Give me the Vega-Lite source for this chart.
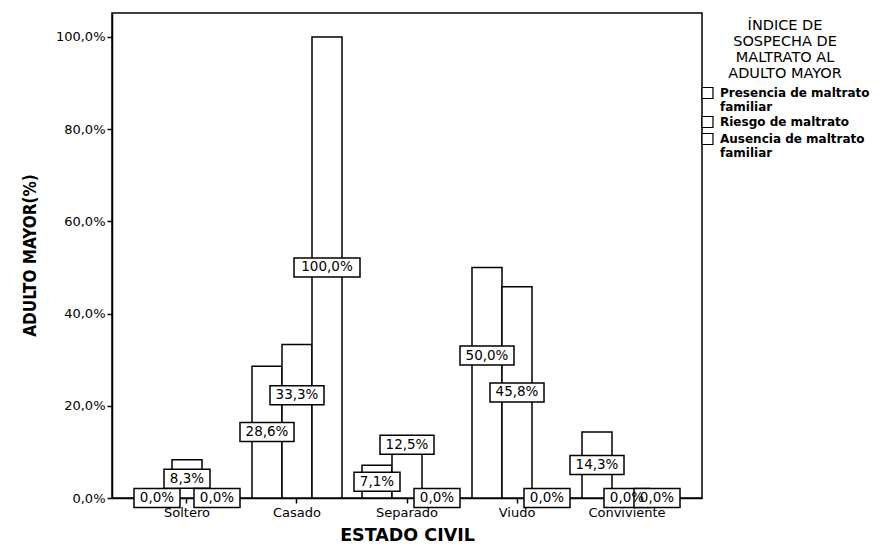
{
  "$schema": "https://vega.github.io/schema/vega-lite/v6.json",
  "width": 590,
  "height": 485,
  "autosize": {"type": "none"},
  "padding": {"left": 112, "top": 13, "right": 183, "bottom": 52},
  "background": "white",
  "config": {
    "view": {"stroke": "black", "strokeWidth": 1.5},
    "axis": {
      "domainColor": "black", "domainWidth": 1.5, "tickColor": "black", "tickWidth": 1.5,
      "labelColor": "black", "titleColor": "black", "grid": false,
      "labelFont": "DejaVu Sans", "titleFont": "DejaVu Sans"
    },
    "legend": {"labelFont": "DejaVu Sans", "titleFont": "DejaVu Sans"}
  },
  "data": {
    "values": [
      {"estado": "Soltero", "serie": "Presencia de maltrato familiar", "value": 0.0},
      {"estado": "Soltero", "serie": "Riesgo de maltrato", "value": 8.3},
      {"estado": "Soltero", "serie": "Ausencia de maltrato familiar", "value": 0.0},
      {"estado": "Casado", "serie": "Presencia de maltrato familiar", "value": 28.6},
      {"estado": "Casado", "serie": "Riesgo de maltrato", "value": 33.3},
      {"estado": "Casado", "serie": "Ausencia de maltrato familiar", "value": 100.0},
      {"estado": "Separado", "serie": "Presencia de maltrato familiar", "value": 7.1},
      {"estado": "Separado", "serie": "Riesgo de maltrato", "value": 12.5},
      {"estado": "Separado", "serie": "Ausencia de maltrato familiar", "value": 0.0},
      {"estado": "Viudo", "serie": "Presencia de maltrato familiar", "value": 50.0},
      {"estado": "Viudo", "serie": "Riesgo de maltrato", "value": 45.8},
      {"estado": "Viudo", "serie": "Ausencia de maltrato familiar", "value": 0.0},
      {"estado": "Conviviente", "serie": "Presencia de maltrato familiar", "value": 14.3},
      {"estado": "Conviviente", "serie": "Riesgo de maltrato", "value": 0.0},
      {"estado": "Conviviente", "serie": "Ausencia de maltrato familiar", "value": 0.0}
    ]
  },
  "transform": [
    {"calculate": "indexof(['Presencia de maltrato familiar','Riesgo de maltrato','Ausencia de maltrato familiar'], datum.serie)", "as": "orden"},
    {"calculate": "datum.value / 2", "as": "mid"},
    {"window": [
      {"op": "lag", "field": "mid", "as": "prevMid"},
      {"op": "lead", "field": "mid", "as": "nextMid"},
      {"op": "lag", "field": "value", "as": "prevVal"},
      {"op": "lead", "field": "value", "as": "nextVal"}
    ], "groupby": ["estado"], "sort": [{"field": "orden", "order": "ascending"}]},
    {"calculate": "(datum.value > 0 && datum.prevVal > 0 && abs(datum.mid - datum.prevMid) < 4.5 && datum.value > datum.prevVal) ? datum.prevMid + 8 : ((datum.value > 0 && datum.nextVal > 0 && abs(datum.mid - datum.nextMid) < 4.5 && datum.value > datum.nextVal) ? datum.nextMid + 8 : datum.mid)", "as": "labY"},
    {"calculate": "replace(format(datum.value, '.1f'), '.', ',') + '%'", "as": "label"}
  ],
  "encoding": {
    "x": {
      "field": "estado", "type": "nominal",
      "sort": ["Soltero", "Casado", "Separado", "Viudo", "Conviviente"],
      "scale": {"paddingInner": 0.1818, "paddingOuter": 0.2727},
      "axis": {
        "title": "ESTADO CIVIL", "titleFontSize": 17.5, "titleFontWeight": "bold", "titlePadding": 7,
        "labelAngle": 0, "labelFontSize": 13, "labelPadding": 3, "tickSize": 5
      }
    },
    "xOffset": {
      "field": "serie", "type": "nominal",
      "sort": ["Presencia de maltrato familiar", "Riesgo de maltrato", "Ausencia de maltrato familiar"],
      "scale": {"paddingInner": 0, "paddingOuter": 0}
    }
  },
  "layer": [
    {
      "mark": {"type": "bar", "stroke": "black", "strokeWidth": 1.5},
      "encoding": {
        "y": {
          "field": "value", "type": "quantitative",
          "scale": {"domain": [0, 105.2], "nice": false, "zero": true},
          "axis": {
            "values": [0, 20, 40, 60, 80, 100],
            "labelExpr": "replace(format(datum.value, '.1f'), '.', ',') + '%'",
            "labelFontSize": 13, "labelPadding": 2, "tickSize": 5,
            "title": "ADULTO MAYOR(%)", "titleFont": "'DejaVu Sans Condensed', 'Liberation Sans', sans-serif", "titleFontWeight": "bold",
            "titleFontSize": 17, "titleX": -82, "titleY": 242, "titleBaseline": "middle", "titleAlign": "center"
          }
        },
        "fill": {
          "field": "serie", "type": "nominal",
          "scale": {
            "domain": ["Presencia de maltrato familiar", "Riesgo de maltrato", "Ausencia de maltrato familiar"],
            "range": ["white", "white", "white"]
          },
          "legend": {
            "orient": "none", "legendX": 589, "legendY": 6,
            "title": ["ÍNDICE DE", "SOSPECHA DE", "MALTRATO AL", "ADULTO MAYOR"],
            "titleFontSize": 14.5, "titleFontWeight": "normal", "titleLineHeight": 16,
            "titleAlign": "center", "titleAnchor": "middle", "titlePadding": 5, "titleLimit": 300,
            "labelExpr": "datum.label == 'Presencia de maltrato familiar' ? ['Presencia de maltrato', 'familiar'] : (datum.label == 'Ausencia de maltrato familiar' ? ['Ausencia de maltrato', 'familiar'] : datum.label)",
            "labelFontSize": 12, "labelFontWeight": "bold", "labelLimit": 300, "labelOffset": 6,
            "symbolType": "square", "symbolSize": 120, "symbolStrokeColor": "black", "symbolStrokeWidth": 1.2,
            "rowPadding": 0
          }
        }
      }
    },
    {
      "mark": {"type": "point", "filled": true, "fill": "white", "stroke": "black", "strokeWidth": 1.5, "size": 400, "opacity": 1},
      "encoding": {
        "y": {"field": "labY", "type": "quantitative"},
        "shape": {
          "condition": [
            {"test": "datum.value >= 100", "value": "M-3.3,-0.95H3.3V0.95H-3.3Z"},
            {"test": "datum.value < 10", "value": "M-2.3,-0.95H2.3V0.95H-2.3Z"}
          ],
          "value": "M-2.7,-0.95H2.7V0.95H-2.7Z"
        }
      }
    },
    {
      "mark": {"type": "text", "font": "DejaVu Sans", "fontSize": 13.5, "color": "black", "baseline": "middle", "align": "center"},
      "encoding": {
        "y": {"field": "labY", "type": "quantitative"},
        "text": {"field": "label", "type": "nominal"}
      }
    }
  ]
}
